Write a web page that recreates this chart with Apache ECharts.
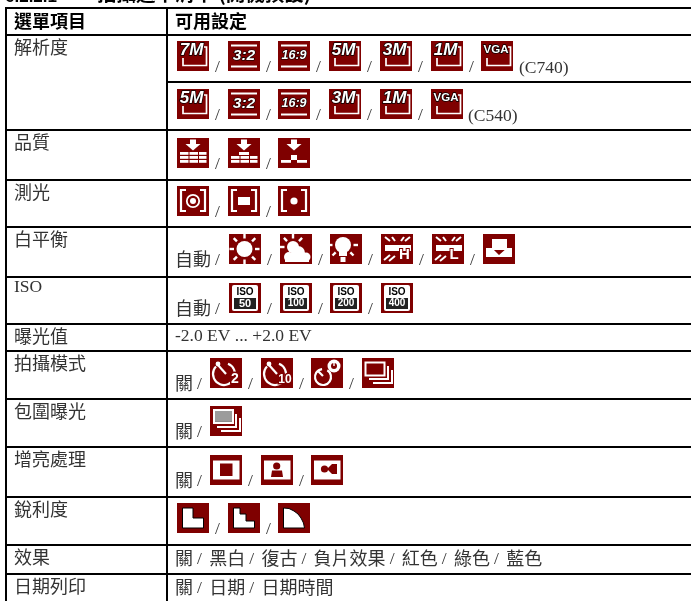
<!DOCTYPE html>
<html><head><meta charset="utf-8">
<script src="https://cdn.jsdelivr.net/npm/echarts@6/dist/echarts.min.js"></script>
<style>html,body{margin:0;padding:0;background:#fff}#c{width:691px;height:601px}</style>
</head><body><div id="c"></div>
<script>
const sectionNumber = '6.2.2.1';
const sectionTitle = '拍攝選單清單 (開機預設)';
const headers = ['選單項目', '可用設定'];
const rowLabels = ['解析度', '', '品質', '測光', '白平衡', 'ISO', '曝光值', '拍攝模式', '包圍曝光', '增亮處理', '銳利度', '效果', '日期列印'];
const rowPrefix = ['', '', '', '', '自動', '自動', '', '關', '關', '關', '', '', ''];
const rowIcons = [
  ['mp:7M', 'ratio:3:2', 'ratio:16:9', 'mp:5M', 'mp:3M', 'mp:1M', 'mp:VGA'],
  ['mp:5M', 'ratio:3:2', 'ratio:16:9', 'mp:3M', 'mp:1M', 'mp:VGA'],
  ['q:3', 'q:2', 'q:1'],
  ['m:c', 'm:r', 'm:d'],
  ['sun', 'cloud', 'bulb', 'fl:H', 'fl:L', 'wbm'],
  ['iso:50', 'iso:100', 'iso:200', 'iso:400'],
  [],
  ['t:2', 't:10', 'ts', 'burst'],
  ['brk'],
  ['fr', 'fp', 'fs'],
  ['s1', 's2', 's3'],
  [], []
];
const rowSuffix = ['(C740)', '(C540)', '', '', '', '', '', '', '', '', '', '', ''];
const rowText = [[], [], [], [], [], [], ['-2.0 EV ... +2.0 EV'], [], [], [], [], ['關', '黑白', '復古', '負片效果', '紅色', '綠色', '藍色'], ['關', '日期', '日期時間']];

// layout
const lineY = [8, 35, 82, 130, 180, 227, 277, 324, 351, 399, 447, 497, 545, 574, 602];
const iconTop = [41, 89, 138, 186, 234, 283, 0, 358, 406, 455, 503, 0, 0];
const startX = {'': 177, '自動': 229, '關': 210};
const PITCH = 50.7, DARK = '#7f0000', TXT = '#333';
const CJK = '"Noto Sans CJK TC"', SERIF = '"Liberation Serif"';
const SER_FONT = `17.5px ${SERIF}`, CJK_FONT = `18px ${CJK}`;

const els = [];
const W = '#fff';
function L(x1, y1, x2, y2, c, w) { return {type:'line', shape:{x1,y1,x2,y2}, style:{stroke:c||W, lineWidth:w||1.5}}; }
function R(x, y, width, height, c, s, r, sw) { return {type:'rect', shape:{x,y,width,height,r:r||0}, style:{fill:c||W, stroke:s||null, lineWidth:s?(sw||1):0}}; }
function P(points, c, w) { return {type:'polyline', shape:{points}, style:{stroke:c||W, lineWidth:w||1.5, fill:null}}; }
function G(points, c, s) { return {type:'polygon', shape:{points}, style:{fill:c||W, stroke:s||null, lineWidth:s?1:0}}; }
function C(cx, cy, r, fill, stroke, w) { return {type:'circle', shape:{cx,cy,r}, style:{fill:fill||null, stroke:stroke||null, lineWidth:w||1.5}}; }
function T(x, y, text, font, o) { return {type:'text', x, y, style:Object.assign({text, fill:W, font, align:'center', verticalAlign:'middle', strokeFirst:true}, o||{})}; }
const SANS = '"Liberation Sans"';

function glyphs(name) {
  const k = name.split(':')[0], v = name.slice(name.indexOf(':') + 1);
  const out = [];
  if (k === 'mp') {
    out.push(P([[27,6],[29.5,6],[29.5,24.5],[6,24.5],[6,17]], W, 1.7));
    out.push(v === 'VGA'
      ? T(15, 9, v, `bold 11.5px ${SANS}`, {stroke:'#000', lineWidth:1.4})
      : T(14.5, 9.5, v, `italic bold 17px ${SANS}`, {stroke:'#000', lineWidth:1.4}));
  } else if (k === 'ratio') {
    out.push(L(3,4.5,29,4.5,W,2), L(3,25.5,29,25.5,W,2));
    out.push(T(16,15,v,`italic bold ${v.length>3?12.5:15.5}px ${SANS}`,{stroke:'#000', lineWidth:1.2}));
  } else if (k === 'q') {
    const n = +v;
    const rows = n === 3 ? [14,18,22] : n === 2 ? [18,22] : [22];
    const cols = n === 1 ? [[3,10],[19,10]] : [[3,8.5],[12.5,8.5],[22,7.5]];
    out.push(R(13,1.5,6,5), G([[8.5,6],[23.5,6],[16,12.5]]));
    rows.forEach(y => cols.forEach(c => out.push(R(c[0],y,c[1],2.8))));
    if (n === 1) out.push(R(13,17,6,5));
    if (n === 2) out.push(R(11,14,10,3));
  } else if (k === 'm') {
    out.push(P([[9,4],[4,4],[4,25],[9,25]],W,2.2), P([[23,4],[28,4],[28,25],[23,25]],W,2.2));
    if (v === 'c') { out.push(C(16,15,6.2,null,W,1.8), C(16,15,3,W)); }
    if (v === 'r') { out.push(R(10,11,12,8)); }
    if (v === 'd') { out.push(C(16,15,3.6,W)); }
  } else if (name === 'sun' || name === 'cloud' || name === 'bulb') {
    const cx = name==='cloud'?13:name==='bulb'?13:15.5, cy = name==='bulb'?11:name==='cloud'?13:15, r = name==='cloud'?6:8;
    const rays = name==='bulb' ? [[-1,0],[1,0],[-.7,.7],[.7,.7]] : name==='cloud' ? [[0,-1],[-.7,-.7],[.7,-.7],[-1,0]] : [[0,-1],[0,1],[-1,0],[1,0],[-.72,-.72],[.72,-.72],[-.72,.72],[.72,.72]];
    rays.forEach(d => out.push(L(cx+d[0]*(r+2.5),cy+d[1]*(r+2.5),cx+d[0]*(r+7),cy+d[1]*(r+7),W,2.4)));
    out.push(C(cx,cy,r,W));
    if (name==='bulb') out.push(R(9,cy+6,8,5), R(10.5,cy+12,5,5));
    if (name==='cloud') out.push(C(9,23,5,W), C(18,19,7,W), C(26,23,4.5,W), R(5,23,24,5));
  } else if (k === 'fl') {
    [[4,3,9,7],[11,3,14,7],[20,7,23,3],[24,7,29,3],[3,26,9,21],[8,27,14,22]].forEach(a => out.push(L(a[0],a[1],a[2],a[3],W,2)));
    out.push(R(4,11,26,6), T(v==='H'?23.5:22,20.5,v,`bold 15px ${SANS}`,{stroke:DARK,lineWidth:2}));
  } else if (name === 'wbm') {
    out.push(R(9,5,15,11,W), G([[3,14],[9,14],[16,21],[24,14],[29,14],[29,23],[3,23]],W));
  } else if (k === 'iso') {
    out.push(R(3,2,26,26,W,null,2));
    out.push(T(16,8.8,'ISO',`bold 10px ${SANS}`,{fill:'#000'}));
    out.push(R(5,15,22,11,'#222'), T(16,20.5,v,`bold ${v.length>2?10:11}px ${SANS}`));
  } else if (k === 't' || name === 'ts') {
    if (name === 'ts') {
      out.push({type:'arc',shape:{cx:12,cy:19,r:8,startAngle:-1,endAngle:4.6},style:{stroke:W,lineWidth:2.2,fill:null}}, L(7,13,12,18,W,2.2), C(23,8,6.5,W), C(23,8,3,DARK), L(23,3.5,23,8,W,1.4));
    } else {
      out.push({type:'arc',shape:{cx:14,cy:16,r:11,startAngle:-1.2,endAngle:3.9},style:{stroke:W,lineWidth:2.2,fill:null}}, L(8,7,16,16,W,2.2), C(8,6,2.4,W));
      out.push(T(v==='2'?25:24,21.5,v,`bold ${v==='2'?14:12}px ${SANS}`,{stroke:DARK,lineWidth:3}));
    }
  } else if (name === 'burst' || name === 'brk') {
    out.push(P([[26,8],[26,21],[7,21]],W,2), P([[30,12],[30,25],[11,25]],W,2));
    if (name === 'burst') {
      out.push(R(3.5,4.5,19,13,DARK,W,0,2));
    } else {
      out.push(R(3,3,21,15,W), R(5,5,17,11,'#8c8c8c'));
      for (let i = 0; i < 5; i++) out.push(L(5,6+i*2,22,6+i*2,'#b5b5b5',0.8));
    }
  } else if (name === 'fr' || name === 'fp' || name === 'fs') {
    out.push(R(3,5.5,26.5,19,W));
    if (name === 'fr') out.push(R(10,8.5,12.5,12.5,DARK));
    if (name === 'fp') out.push(C(15.7,11,3.6,DARK), G([[10,22],[11,15.5],[21,15.5],[22,22]],DARK));
    if (name === 'fs') out.push(C(13.5,14,3.6,DARK), G([[16,14],[21,9],[26,9],[26,19],[21,19]],DARK));
  } else if (name === 's1') {
    out.push(G([[5.5,5],[16,5],[16,15],[26.5,15],[26.5,25],[5.5,25]],W,'#000'));
  } else if (name === 's2') {
    out.push(G([[5.5,5],[12,5],[12,11],[18,11],[18,18],[26.5,18],[26.5,25],[5.5,25]],W,'#000'));
  } else if (name === 's3') {
    out.push(G([[5.5,5],[11,5.5],[16,8],[20,11],[23,15],[25.5,20],[26.5,25],[5.5,25]],W,'#000'));
  }
  return out;
}

function slash(x, y) {
  return {type:'text', x, y, style:{text:'/', fill:TXT, font:SER_FONT, align:'center', verticalAlign:'middle'}};
}

// title (clipped by the top edge, as in the source page)
els.push({type:'text', x:5, y:-3, style:{text:sectionNumber, fill:'#000', font:`bold 17px ${SANS}`, verticalAlign:'middle'}});
els.push({type:'text', x:97, y:-6, style:{text:sectionTitle, fill:'#000', font:`bold 19.5px ${CJK}`, verticalAlign:'middle'}});

// headers
els.push({type:'text', x:14, y:21, style:{text:headers[0], fill:'#000', font:`bold 18px ${CJK}`, verticalAlign:'middle'}});
els.push({type:'text', x:175, y:21, style:{text:headers[1], fill:'#000', font:`bold 18px ${CJK}`, verticalAlign:'middle'}});

rowLabels.forEach((label, i) => {
  const top = lineY[i + 1];
  if (label) {
    const isLatin = /^[A-Z]+$/.test(label);
    els.push({type:'text', x:14, y:top + (isLatin ? 10 : 12.5), style:{text:label, fill:TXT,
      font: isLatin ? SER_FONT : CJK_FONT, verticalAlign:'middle'}});
  }
  const parts = rowText[i];
  if (parts.length === 1) {
    els.push({type:'text', x:175, y:top + 12.5, style:{text:parts[0], fill:TXT, font:SER_FONT, verticalAlign:'middle'}});
  } else if (parts.length) {
    let x = 175;
    parts.forEach((p, j) => {
      els.push({type:'text', x, y:top + 13.5, style:{text:p, fill:TXT, font:CJK_FONT, verticalAlign:'middle'}});
      x += p.length * 18;
      if (j < parts.length - 1) { els.push(slash(x + 6.5, top + 14)); x += 16.2; }
    });
  }
  const icons = rowIcons[i];
  if (!icons.length) return;
  const x0 = startX[rowPrefix[i]], y0 = iconTop[i];
  if (rowPrefix[i]) {
    els.push({type:'text', x:175, y:y0 + 25, style:{text:rowPrefix[i], fill:TXT, font:CJK_FONT, verticalAlign:'middle'}});
    els.push(slash(175 + rowPrefix[i].length * 18 + 6.5, y0 + 26));
  }
  icons.forEach((name, j) => {
    const x = Math.round(x0 + j * PITCH);
    els.push({type:'group', x, y:y0, children:[R(0,0,32,30,DARK)].concat(glyphs(name))});
    if (j < icons.length - 1) els.push(slash(x + 40.5, y0 + 26.5));
  });
  if (rowSuffix[i]) {
    const x = Math.round(x0 + icons.length * PITCH) - 13;
    els.push({type:'text', x, y:y0 + 27, style:{text:rowSuffix[i], fill:TXT, font:SER_FONT, verticalAlign:'middle'}});
  }
});

// rules
lineY.forEach((y, i) => {
  const x1 = i === 2 ? 167 : 5;
  els.push({type:'line', shape:{x1, y1:y, x2:691, y2:y}, style:{stroke:'#000', lineWidth:2}});
});
els.push({type:'line', shape:{x1:6, y1:7, x2:6, y2:601}, style:{stroke:'#000', lineWidth:2}});
els.push({type:'line', shape:{x1:167, y1:7, x2:167, y2:601}, style:{stroke:'#000', lineWidth:2}});

const chart = echarts.init(document.getElementById('c'), null, {renderer:'canvas'});
chart.setOption({animation:false, backgroundColor:'#fff', graphic:{elements:els}});
</script></body></html>
